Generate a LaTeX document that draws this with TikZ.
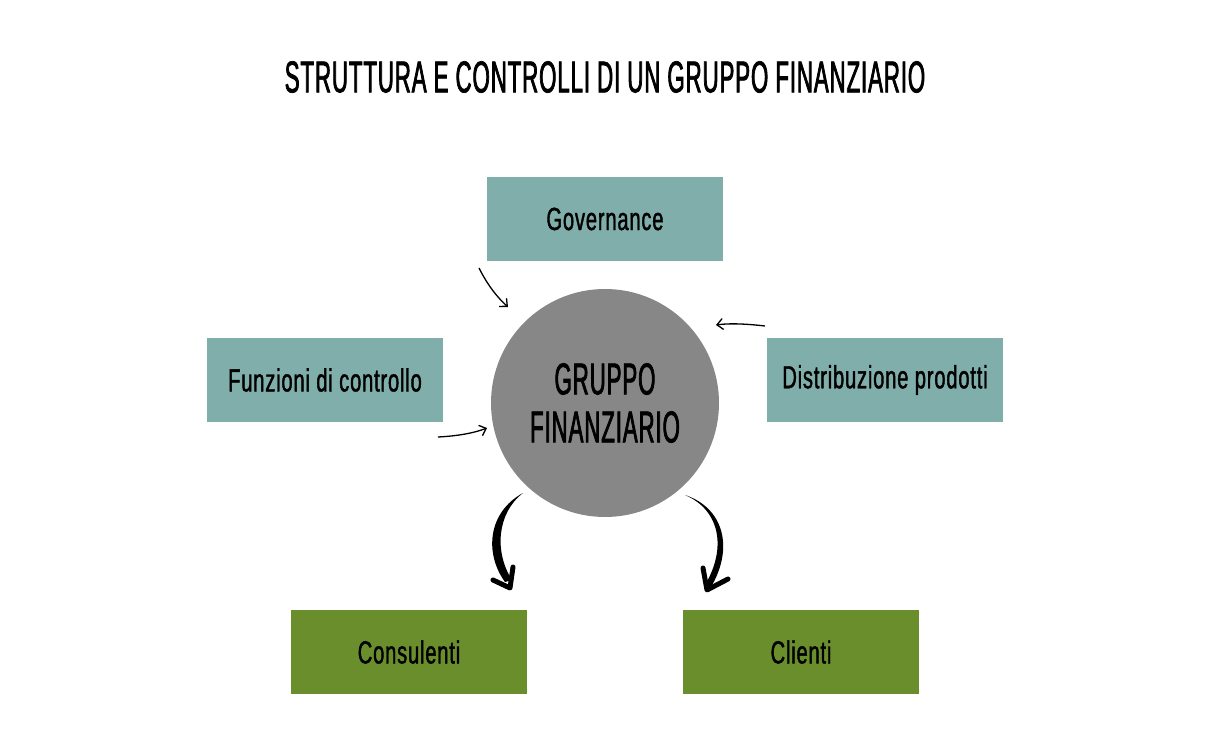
\documentclass[tikz,border=0pt]{standalone}
\usepackage{fontspec}
\setmainfont{Liberation Sans}[FakeStretch=0.63,FakeBold=1.2,LetterSpace=2.5]
\newfontfamily\capsfont{Liberation Sans}[FakeStretch=0.5,FakeBold=1.6,LetterSpace=2]
\usepackage{xcolor}
\usepackage{tikz}
\usetikzlibrary{arrows.meta,positioning,calc}
\definecolor{tealbox}{HTML}{80AEAA}
\definecolor{greenbox}{HTML}{6A8E2C}
\definecolor{hubgray}{HTML}{878787}

\begin{document}
\begin{tikzpicture}[x=1pt,y=1pt]
  \tikzstyle{card}=[rectangle,minimum width=236pt,minimum height=84pt,inner sep=0pt,font=\fontsize{32}{36}\selectfont]
  \tikzstyle{thin}=[line width=1.3pt,-{Straight Barb[length=6pt,width=11pt]}]
  \tikzstyle{bold}=[line width=5pt,line cap=round,line join=round]
  \useasboundingbox (0,0) rectangle (1216,748);
  \node[font=\capsfont\fontsize{44.5}{48}\selectfont] (title) at (605,671) {STRUTTURA E CONTROLLI DI UN GRUPPO FINANZIARIO};
  \node[circle,fill=hubgray,minimum size=228pt,inner sep=0pt,align=center,font=\capsfont\fontsize{44.5}{48}\selectfont] (hub) at (605,345) {GRUPPO\\FINANZIARIO};
  \node[card,fill=tealbox] (gov) at (605,529) {Governance};
  \node[card,fill=tealbox] (ctrl) at (325,368) {Funzioni di controllo};
  \node[card,fill=tealbox] (dist) at (885,368) {Distribuzione prodotti};
  \node[card,fill=greenbox] (cons) at (409,96) {Consulenti};
  \node[card,fill=greenbox] (cli) at (801,96) {Clienti};
  \coordinate (govtail) at (479,480);
  \coordinate (disttail) at (765,422);
  \coordinate (ctrltail) at (438,311);
  \draw[thin] (govtail) .. controls (488,462) and (498,450) .. (508,441);
  \draw[thin] (disttail) .. controls (748,424) and (730,425) .. (716,423);
  \draw[thin] (ctrltail) .. controls (458,312) and (474,315) .. (487,320);
  \coordinate (lefttip) at (510,160);
  \coordinate (righttip) at (707,158);
  \fill (523,255) .. controls (488,236) and (484,195) .. (505,166) -- (512,168)
    .. controls (494,196) and (497,235) .. (523,255) -- cycle;
  \draw[bold] (493,168) -- (lefttip) -- (513,181);
  \fill (685,253) .. controls (720,238) and (727,200) .. (705,163) -- (711,161)
    .. controls (734,200) and (724,240) .. (685,253) -- cycle;
  \draw[bold] (703,180) -- (righttip) -- (728,169);
\end{tikzpicture}
\end{document}
